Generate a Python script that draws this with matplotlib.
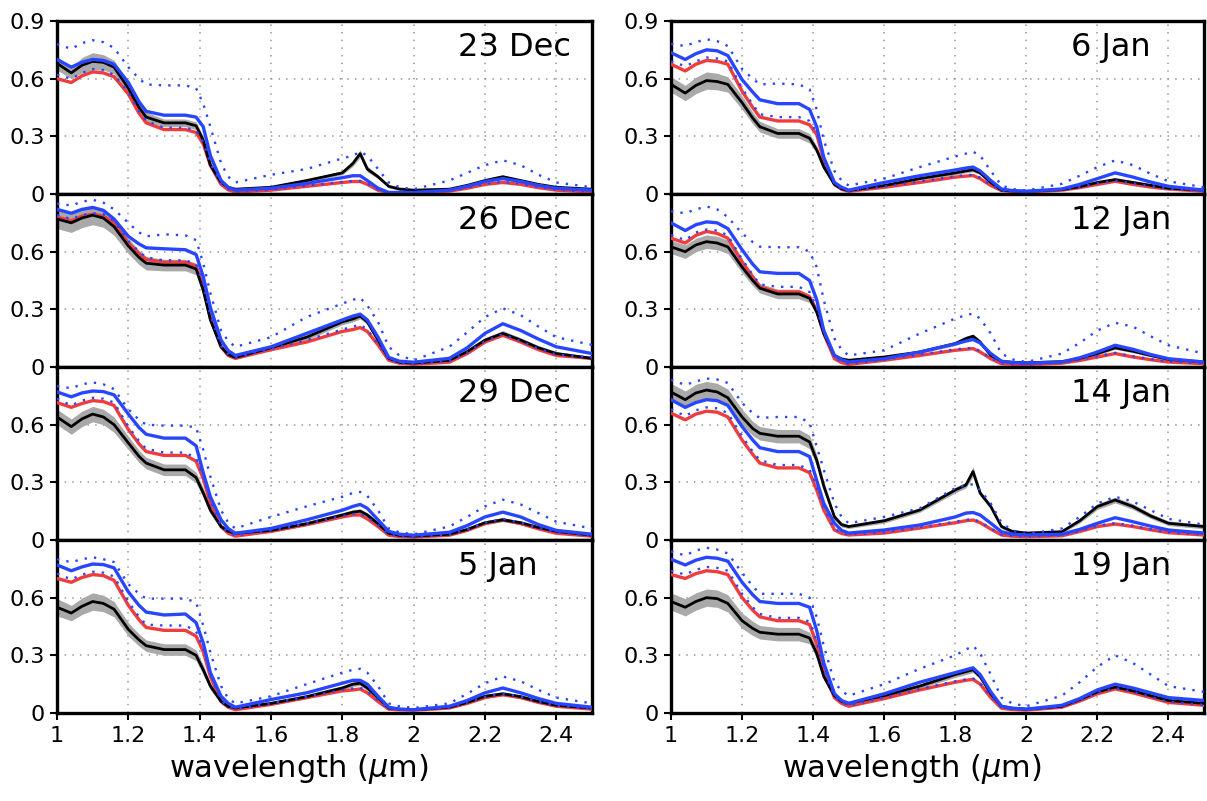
import numpy as np
import matplotlib.pyplot as plt

# wavelength knots (micron) shared by every series
wl = [1.00, 1.04, 1.07, 1.10, 1.13, 1.16, 1.20, 1.23, 1.25, 1.30, 1.36, 1.39, 1.41, 1.43, 1.46, 1.48, 1.50,
      1.60, 1.70, 1.80, 1.83, 1.85, 1.87, 1.90, 1.93, 1.96, 2.00, 2.10, 2.15, 2.20, 2.25, 2.30, 2.35, 2.40, 2.50]

# panel order: left column top->bottom, then right column top->bottom
dates = ['23 Dec', '26 Dec', '29 Dec', '5 Jan', '6 Jan', '12 Jan', '14 Jan', '19 Jan']

black = [
    [0.68, 0.63, 0.67, 0.69, 0.685, 0.66, 0.55, 0.45, 0.40, 0.37, 0.37, 0.355, 0.28, 0.15, 0.06, 0.035, 0.025, 0.035, 0.07, 0.11, 0.16, 0.21, 0.13, 0.09, 0.04, 0.026, 0.02, 0.025, 0.045, 0.07, 0.09, 0.07, 0.05, 0.035, 0.025],
    [0.77, 0.75, 0.775, 0.79, 0.775, 0.73, 0.63, 0.57, 0.54, 0.53, 0.53, 0.51, 0.40, 0.245, 0.105, 0.065, 0.05, 0.10, 0.155, 0.235, 0.25, 0.265, 0.235, 0.14, 0.045, 0.025, 0.02, 0.035, 0.08, 0.14, 0.175, 0.14, 0.10, 0.07, 0.045],
    [0.64, 0.59, 0.63, 0.655, 0.64, 0.60, 0.505, 0.435, 0.40, 0.365, 0.365, 0.325, 0.245, 0.155, 0.07, 0.045, 0.035, 0.05, 0.085, 0.13, 0.145, 0.15, 0.13, 0.085, 0.035, 0.024, 0.02, 0.03, 0.055, 0.09, 0.105, 0.09, 0.065, 0.045, 0.025],
    [0.55, 0.52, 0.555, 0.58, 0.57, 0.54, 0.435, 0.38, 0.35, 0.33, 0.33, 0.30, 0.225, 0.14, 0.06, 0.035, 0.026, 0.05, 0.085, 0.13, 0.15, 0.155, 0.13, 0.08, 0.026, 0.02, 0.017, 0.03, 0.055, 0.087, 0.10, 0.085, 0.06, 0.04, 0.026],
    [0.57, 0.525, 0.565, 0.59, 0.585, 0.57, 0.475, 0.395, 0.35, 0.315, 0.315, 0.29, 0.23, 0.14, 0.05, 0.027, 0.018, 0.044, 0.08, 0.11, 0.12, 0.126, 0.11, 0.06, 0.02, 0.016, 0.014, 0.023, 0.038, 0.06, 0.075, 0.06, 0.045, 0.03, 0.02],
    [0.625, 0.60, 0.635, 0.652, 0.645, 0.625, 0.52, 0.45, 0.41, 0.38, 0.38, 0.357, 0.287, 0.174, 0.06, 0.042, 0.035, 0.052, 0.078, 0.122, 0.148, 0.16, 0.13, 0.06, 0.03, 0.025, 0.022, 0.028, 0.045, 0.07, 0.10, 0.082, 0.06, 0.04, 0.026],
    [0.77, 0.73, 0.765, 0.78, 0.77, 0.74, 0.64, 0.58, 0.555, 0.54, 0.54, 0.51, 0.415, 0.28, 0.12, 0.08, 0.07, 0.10, 0.156, 0.26, 0.286, 0.356, 0.244, 0.174, 0.07, 0.045, 0.036, 0.043, 0.10, 0.174, 0.208, 0.174, 0.125, 0.087, 0.07],
    [0.58, 0.55, 0.58, 0.60, 0.595, 0.57, 0.48, 0.44, 0.42, 0.41, 0.41, 0.39, 0.31, 0.19, 0.09, 0.06, 0.05, 0.09, 0.14, 0.20, 0.215, 0.225, 0.19, 0.10, 0.035, 0.025, 0.02, 0.035, 0.07, 0.11, 0.135, 0.115, 0.09, 0.065, 0.05],
]

# half width of the grey band around the black curve
spread = [
    [0.035, 0.03, 0.04, 0.045, 0.04, 0.035, 0.03, 0.028, 0.025, 0.02, 0.02, 0.02, 0.02, 0.015, 0.01, 0.009, 0.008, 0.008, 0.008, 0.01, 0.015, 0.02, 0.015, 0.01, 0.008, 0.007, 0.006, 0.006, 0.007, 0.008, 0.008, 0.008, 0.007, 0.006, 0.006],
    [0.05, 0.05, 0.05, 0.05, 0.048, 0.045, 0.04, 0.037, 0.035, 0.03, 0.03, 0.03, 0.03, 0.02, 0.012, 0.011, 0.01, 0.012, 0.015, 0.015, 0.015, 0.015, 0.015, 0.012, 0.01, 0.009, 0.008, 0.008, 0.01, 0.012, 0.015, 0.012, 0.011, 0.01, 0.008],
    [0.04, 0.04, 0.04, 0.04, 0.04, 0.04, 0.035, 0.032, 0.03, 0.03, 0.03, 0.028, 0.025, 0.018, 0.012, 0.011, 0.01, 0.01, 0.01, 0.012, 0.012, 0.012, 0.012, 0.01, 0.008, 0.007, 0.006, 0.006, 0.008, 0.01, 0.01, 0.01, 0.009, 0.008, 0.006],
    [0.045, 0.04, 0.043, 0.045, 0.043, 0.04, 0.035, 0.032, 0.03, 0.03, 0.03, 0.028, 0.025, 0.018, 0.012, 0.01, 0.008, 0.01, 0.01, 0.012, 0.012, 0.012, 0.012, 0.01, 0.008, 0.007, 0.006, 0.006, 0.008, 0.01, 0.01, 0.01, 0.009, 0.008, 0.006],
    [0.04, 0.04, 0.043, 0.045, 0.043, 0.04, 0.035, 0.03, 0.028, 0.025, 0.025, 0.025, 0.02, 0.015, 0.01, 0.009, 0.008, 0.008, 0.008, 0.01, 0.01, 0.01, 0.01, 0.008, 0.006, 0.005, 0.005, 0.005, 0.006, 0.008, 0.008, 0.008, 0.007, 0.006, 0.005],
    [0.035, 0.035, 0.035, 0.035, 0.035, 0.035, 0.03, 0.027, 0.025, 0.025, 0.025, 0.022, 0.02, 0.015, 0.01, 0.009, 0.008, 0.008, 0.008, 0.01, 0.012, 0.012, 0.01, 0.008, 0.006, 0.005, 0.005, 0.005, 0.006, 0.008, 0.008, 0.008, 0.007, 0.006, 0.005],
    [0.045, 0.045, 0.045, 0.045, 0.045, 0.045, 0.04, 0.037, 0.035, 0.035, 0.035, 0.035, 0.03, 0.025, 0.015, 0.012, 0.01, 0.012, 0.012, 0.015, 0.015, 0.025, 0.015, 0.012, 0.01, 0.009, 0.008, 0.008, 0.012, 0.015, 0.015, 0.015, 0.013, 0.012, 0.012],
    [0.045, 0.045, 0.045, 0.045, 0.045, 0.045, 0.04, 0.037, 0.035, 0.035, 0.035, 0.03, 0.028, 0.02, 0.012, 0.011, 0.01, 0.012, 0.012, 0.015, 0.015, 0.015, 0.015, 0.012, 0.01, 0.009, 0.008, 0.008, 0.01, 0.012, 0.012, 0.012, 0.011, 0.01, 0.01],
]

red = [
    [0.60, 0.58, 0.615, 0.635, 0.63, 0.61, 0.52, 0.42, 0.37, 0.335, 0.335, 0.32, 0.26, 0.15, 0.05, 0.022, 0.01, 0.02, 0.04, 0.06, 0.065, 0.065, 0.05, 0.02, 0.005, 0.005, 0.005, 0.015, 0.03, 0.05, 0.06, 0.05, 0.033, 0.02, 0.01],
    [0.78, 0.76, 0.785, 0.795, 0.785, 0.75, 0.645, 0.59, 0.56, 0.545, 0.545, 0.525, 0.42, 0.26, 0.105, 0.06, 0.045, 0.09, 0.13, 0.185, 0.195, 0.205, 0.185, 0.115, 0.035, 0.02, 0.015, 0.025, 0.07, 0.13, 0.165, 0.13, 0.09, 0.06, 0.045],
    [0.715, 0.69, 0.71, 0.725, 0.72, 0.70, 0.575, 0.50, 0.46, 0.44, 0.44, 0.41, 0.32, 0.19, 0.07, 0.035, 0.02, 0.045, 0.08, 0.12, 0.13, 0.13, 0.11, 0.07, 0.025, 0.018, 0.015, 0.025, 0.05, 0.085, 0.105, 0.085, 0.058, 0.035, 0.02],
    [0.70, 0.68, 0.705, 0.72, 0.715, 0.69, 0.56, 0.485, 0.445, 0.43, 0.43, 0.40, 0.32, 0.19, 0.06, 0.03, 0.017, 0.045, 0.08, 0.115, 0.12, 0.125, 0.105, 0.06, 0.02, 0.016, 0.014, 0.026, 0.05, 0.08, 0.095, 0.08, 0.055, 0.035, 0.02],
    [0.675, 0.64, 0.675, 0.695, 0.69, 0.675, 0.535, 0.45, 0.40, 0.38, 0.38, 0.36, 0.31, 0.175, 0.05, 0.025, 0.014, 0.035, 0.06, 0.088, 0.093, 0.096, 0.08, 0.044, 0.018, 0.012, 0.01, 0.02, 0.033, 0.05, 0.066, 0.05, 0.036, 0.026, 0.014],
    [0.67, 0.645, 0.685, 0.705, 0.695, 0.67, 0.548, 0.47, 0.417, 0.39, 0.39, 0.365, 0.295, 0.174, 0.043, 0.023, 0.014, 0.035, 0.06, 0.087, 0.092, 0.096, 0.078, 0.043, 0.017, 0.014, 0.012, 0.02, 0.034, 0.052, 0.07, 0.052, 0.038, 0.026, 0.017],
    [0.66, 0.625, 0.655, 0.67, 0.665, 0.64, 0.52, 0.445, 0.40, 0.375, 0.375, 0.35, 0.26, 0.156, 0.052, 0.034, 0.026, 0.036, 0.062, 0.09, 0.10, 0.104, 0.09, 0.057, 0.026, 0.02, 0.017, 0.022, 0.044, 0.07, 0.083, 0.07, 0.053, 0.038, 0.026],
    [0.72, 0.70, 0.725, 0.74, 0.735, 0.72, 0.60, 0.535, 0.50, 0.48, 0.48, 0.46, 0.36, 0.21, 0.08, 0.05, 0.035, 0.075, 0.12, 0.16, 0.17, 0.175, 0.15, 0.08, 0.025, 0.018, 0.015, 0.03, 0.062, 0.10, 0.125, 0.105, 0.08, 0.055, 0.04],
]

blue = [
    [0.70, 0.66, 0.685, 0.70, 0.695, 0.675, 0.58, 0.48, 0.43, 0.41, 0.41, 0.40, 0.35, 0.20, 0.07, 0.035, 0.02, 0.03, 0.055, 0.085, 0.095, 0.095, 0.07, 0.03, 0.008, 0.008, 0.008, 0.02, 0.04, 0.065, 0.08, 0.065, 0.045, 0.03, 0.02],
    [0.82, 0.80, 0.82, 0.83, 0.815, 0.77, 0.68, 0.64, 0.62, 0.615, 0.61, 0.585, 0.47, 0.31, 0.14, 0.085, 0.06, 0.105, 0.175, 0.245, 0.265, 0.275, 0.245, 0.155, 0.05, 0.03, 0.025, 0.045, 0.10, 0.175, 0.225, 0.19, 0.145, 0.105, 0.07],
    [0.77, 0.745, 0.765, 0.775, 0.772, 0.755, 0.655, 0.585, 0.55, 0.53, 0.53, 0.49, 0.35, 0.225, 0.105, 0.06, 0.035, 0.06, 0.105, 0.155, 0.175, 0.185, 0.165, 0.105, 0.045, 0.03, 0.025, 0.04, 0.075, 0.12, 0.145, 0.12, 0.08, 0.05, 0.03],
    [0.77, 0.74, 0.76, 0.775, 0.772, 0.755, 0.63, 0.56, 0.525, 0.51, 0.515, 0.47, 0.365, 0.21, 0.087, 0.05, 0.03, 0.07, 0.105, 0.155, 0.17, 0.17, 0.15, 0.087, 0.03, 0.02, 0.017, 0.035, 0.065, 0.105, 0.13, 0.105, 0.075, 0.05, 0.03],
    [0.735, 0.70, 0.73, 0.75, 0.745, 0.72, 0.595, 0.53, 0.49, 0.47, 0.47, 0.44, 0.35, 0.19, 0.06, 0.035, 0.02, 0.06, 0.095, 0.125, 0.135, 0.14, 0.12, 0.07, 0.026, 0.018, 0.014, 0.026, 0.05, 0.08, 0.11, 0.088, 0.062, 0.04, 0.02],
    [0.75, 0.71, 0.74, 0.755, 0.75, 0.72, 0.61, 0.535, 0.495, 0.487, 0.487, 0.45, 0.35, 0.19, 0.06, 0.038, 0.026, 0.043, 0.078, 0.12, 0.135, 0.143, 0.125, 0.07, 0.03, 0.023, 0.02, 0.026, 0.048, 0.078, 0.113, 0.092, 0.065, 0.043, 0.026],
    [0.73, 0.69, 0.715, 0.73, 0.725, 0.70, 0.59, 0.52, 0.48, 0.46, 0.46, 0.434, 0.31, 0.19, 0.087, 0.05, 0.036, 0.052, 0.078, 0.12, 0.14, 0.143, 0.13, 0.087, 0.043, 0.03, 0.026, 0.03, 0.055, 0.087, 0.116, 0.095, 0.072, 0.052, 0.036],
    [0.80, 0.77, 0.795, 0.81, 0.805, 0.79, 0.68, 0.615, 0.58, 0.57, 0.57, 0.55, 0.43, 0.26, 0.10, 0.065, 0.05, 0.10, 0.16, 0.21, 0.225, 0.235, 0.20, 0.11, 0.035, 0.025, 0.02, 0.04, 0.075, 0.12, 0.15, 0.13, 0.105, 0.08, 0.065],
]

blue_hi = [
    [0.78, 0.755, 0.785, 0.80, 0.79, 0.76, 0.66, 0.60, 0.57, 0.565, 0.565, 0.55, 0.47, 0.35, 0.16, 0.09, 0.06, 0.10, 0.13, 0.185, 0.20, 0.22, 0.20, 0.13, 0.06, 0.035, 0.025, 0.07, 0.11, 0.15, 0.175, 0.15, 0.10, 0.06, 0.035],
    [0.85, 0.84, 0.86, 0.87, 0.855, 0.82, 0.75, 0.70, 0.68, 0.69, 0.685, 0.66, 0.54, 0.385, 0.19, 0.135, 0.105, 0.155, 0.26, 0.33, 0.35, 0.36, 0.32, 0.235, 0.105, 0.06, 0.035, 0.105, 0.18, 0.26, 0.305, 0.27, 0.21, 0.155, 0.115],
    [0.80, 0.79, 0.81, 0.82, 0.81, 0.785, 0.68, 0.625, 0.60, 0.595, 0.595, 0.585, 0.47, 0.33, 0.155, 0.09, 0.06, 0.12, 0.175, 0.225, 0.245, 0.25, 0.23, 0.155, 0.06, 0.04, 0.03, 0.07, 0.12, 0.175, 0.21, 0.185, 0.14, 0.095, 0.06],
    [0.80, 0.785, 0.80, 0.81, 0.80, 0.785, 0.67, 0.62, 0.595, 0.595, 0.595, 0.575, 0.455, 0.315, 0.14, 0.075, 0.05, 0.087, 0.15, 0.21, 0.225, 0.23, 0.21, 0.14, 0.05, 0.035, 0.026, 0.05, 0.10, 0.155, 0.19, 0.165, 0.12, 0.08, 0.05],
    [0.78, 0.77, 0.79, 0.805, 0.795, 0.77, 0.65, 0.60, 0.57, 0.575, 0.57, 0.545, 0.44, 0.28, 0.12, 0.07, 0.044, 0.08, 0.14, 0.195, 0.21, 0.22, 0.20, 0.12, 0.044, 0.026, 0.018, 0.053, 0.095, 0.14, 0.175, 0.15, 0.105, 0.066, 0.035],
    [0.81, 0.80, 0.82, 0.835, 0.82, 0.78, 0.695, 0.65, 0.626, 0.623, 0.623, 0.60, 0.52, 0.348, 0.148, 0.09, 0.06, 0.087, 0.174, 0.252, 0.27, 0.278, 0.252, 0.174, 0.07, 0.04, 0.026, 0.07, 0.125, 0.19, 0.23, 0.21, 0.16, 0.113, 0.07],
    [0.833, 0.807, 0.825, 0.84, 0.835, 0.817, 0.713, 0.66, 0.635, 0.64, 0.64, 0.61, 0.486, 0.365, 0.19, 0.12, 0.087, 0.12, 0.165, 0.27, 0.285, 0.29, 0.26, 0.19, 0.09, 0.05, 0.03, 0.06, 0.12, 0.19, 0.225, 0.20, 0.155, 0.11, 0.08],
    [0.84, 0.82, 0.845, 0.86, 0.85, 0.83, 0.73, 0.66, 0.62, 0.62, 0.62, 0.60, 0.50, 0.35, 0.16, 0.115, 0.09, 0.15, 0.23, 0.30, 0.33, 0.35, 0.31, 0.20, 0.08, 0.05, 0.035, 0.09, 0.16, 0.24, 0.30, 0.26, 0.20, 0.14, 0.11],
]

blue_lo = [
    [0.62, 0.60, 0.63, 0.65, 0.645, 0.62, 0.53, 0.43, 0.38, 0.345, 0.345, 0.33, 0.27, 0.16, 0.055, 0.025, 0.012, 0.022, 0.043, 0.063, 0.068, 0.068, 0.055, 0.022, 0.006, 0.006, 0.006, 0.017, 0.033, 0.053, 0.063, 0.053, 0.036, 0.022, 0.012],
    [0.79, 0.77, 0.79, 0.80, 0.795, 0.76, 0.655, 0.60, 0.57, 0.555, 0.555, 0.535, 0.43, 0.27, 0.11, 0.065, 0.05, 0.095, 0.14, 0.195, 0.21, 0.22, 0.195, 0.12, 0.038, 0.022, 0.017, 0.03, 0.075, 0.135, 0.17, 0.135, 0.095, 0.065, 0.05],
    [0.735, 0.70, 0.725, 0.74, 0.735, 0.715, 0.59, 0.515, 0.475, 0.455, 0.455, 0.425, 0.33, 0.20, 0.075, 0.04, 0.022, 0.05, 0.085, 0.125, 0.135, 0.138, 0.118, 0.075, 0.028, 0.02, 0.016, 0.028, 0.055, 0.09, 0.11, 0.09, 0.064, 0.04, 0.022],
    [0.725, 0.695, 0.72, 0.735, 0.73, 0.71, 0.58, 0.50, 0.46, 0.455, 0.455, 0.425, 0.335, 0.20, 0.065, 0.035, 0.02, 0.05, 0.085, 0.12, 0.128, 0.132, 0.112, 0.065, 0.022, 0.018, 0.015, 0.028, 0.055, 0.085, 0.10, 0.085, 0.06, 0.038, 0.022],
    [0.69, 0.665, 0.69, 0.71, 0.705, 0.69, 0.55, 0.465, 0.415, 0.40, 0.40, 0.38, 0.32, 0.18, 0.055, 0.028, 0.016, 0.038, 0.065, 0.093, 0.098, 0.10, 0.085, 0.048, 0.02, 0.014, 0.011, 0.022, 0.036, 0.055, 0.07, 0.055, 0.04, 0.028, 0.016],
    [0.687, 0.66, 0.70, 0.715, 0.71, 0.685, 0.56, 0.48, 0.43, 0.417, 0.417, 0.39, 0.31, 0.18, 0.048, 0.027, 0.016, 0.038, 0.065, 0.092, 0.097, 0.10, 0.083, 0.047, 0.019, 0.015, 0.013, 0.022, 0.037, 0.056, 0.074, 0.056, 0.041, 0.028, 0.019],
    [0.68, 0.645, 0.675, 0.69, 0.685, 0.66, 0.54, 0.46, 0.415, 0.39, 0.39, 0.365, 0.275, 0.165, 0.058, 0.038, 0.028, 0.04, 0.066, 0.095, 0.105, 0.108, 0.095, 0.06, 0.028, 0.021, 0.018, 0.024, 0.047, 0.074, 0.088, 0.074, 0.056, 0.04, 0.028],
    [0.74, 0.72, 0.745, 0.76, 0.755, 0.74, 0.62, 0.55, 0.515, 0.495, 0.495, 0.475, 0.375, 0.22, 0.085, 0.055, 0.038, 0.08, 0.125, 0.165, 0.175, 0.18, 0.155, 0.085, 0.027, 0.02, 0.016, 0.032, 0.065, 0.105, 0.13, 0.11, 0.084, 0.058, 0.042],
]

xticks = [1, 1.2, 1.4, 1.6, 1.8, 2, 2.2, 2.4]
xticklabels = ['1', '1.2', '1.4', '1.6', '1.8', '2', '2.2', '2.4']
yticks = [0, 0.3, 0.6, 0.9]
yticklabels = ['0', '0.3', '0.6', '0.9']

W, H = 1207, 801
fig = plt.figure(figsize=(W / 100, H / 100), dpi=100)

col_left = [57, 671]
col_width = [535, 533]
top, ph = 21, 173

blue_c = '#2846ff'
red_c = '#f03c3c'
x = np.array(wl)
for k, date in enumerate(dates):
    col, row = divmod(k, 4)
    y0 = top + ph * (row + 1)
    ax = fig.add_axes([col_left[col] / W, 1 - y0 / H, col_width[col] / W, ph / H])

    b = np.array(black[k])
    s = np.array(spread[k])
    ax.fill_between(x, b - s, b + s, color='#a9a9a9', lw=0, zorder=2)
    ax.plot(x, red[k], color=red_c, lw=2.4, solid_joinstyle='round', zorder=3)
    ax.plot(x, b, color='black', lw=2.0, solid_joinstyle='round', zorder=4)
    ax.plot(x, blue[k], color=blue_c, lw=2.4, solid_joinstyle='round', zorder=5)
    ax.plot(x, blue_hi[k], color=blue_c, lw=1.7, ls=(0, (1.0, 3.0)), zorder=6)
    ax.plot(x, blue_lo[k], color=blue_c, lw=1.7, ls=(0, (1.0, 3.0)), zorder=6)

    ax.set_xlim(1, 2.5)
    ax.set_ylim(0, 0.9)
    ax.set_xticks(xticks)
    ax.set_yticks(yticks)
    if row == 0:
        ax.set_yticklabels(yticklabels)
    else:
        ax.set_yticklabels(yticklabels[:3] + [''])
    if row == 3:
        ax.set_xticklabels(xticklabels)
    else:
        ax.set_xticklabels([])
    ax.tick_params(axis='both', direction='out', length=5, width=1.5, labelsize=16, pad=4)
    ax.grid(True, color='#999999', ls=(0, (1, 4)), lw=1.1)
    ax.set_axisbelow(True)
    for sp in ax.spines.values():
        sp.set_linewidth(2.4)
    ax.text(0.75, 0.935, date, transform=ax.transAxes, ha='left', va='top',
            fontsize=23, zorder=10)

for col in range(2):
    cx = (col_left[col] + col_width[col] / 2 - 26) / W
    fig.text(cx, 1 - 769 / H, r'wavelength ($\mu$m)', ha='center', va='center', fontsize=22)

fig.savefig('out.png', dpi=100)
